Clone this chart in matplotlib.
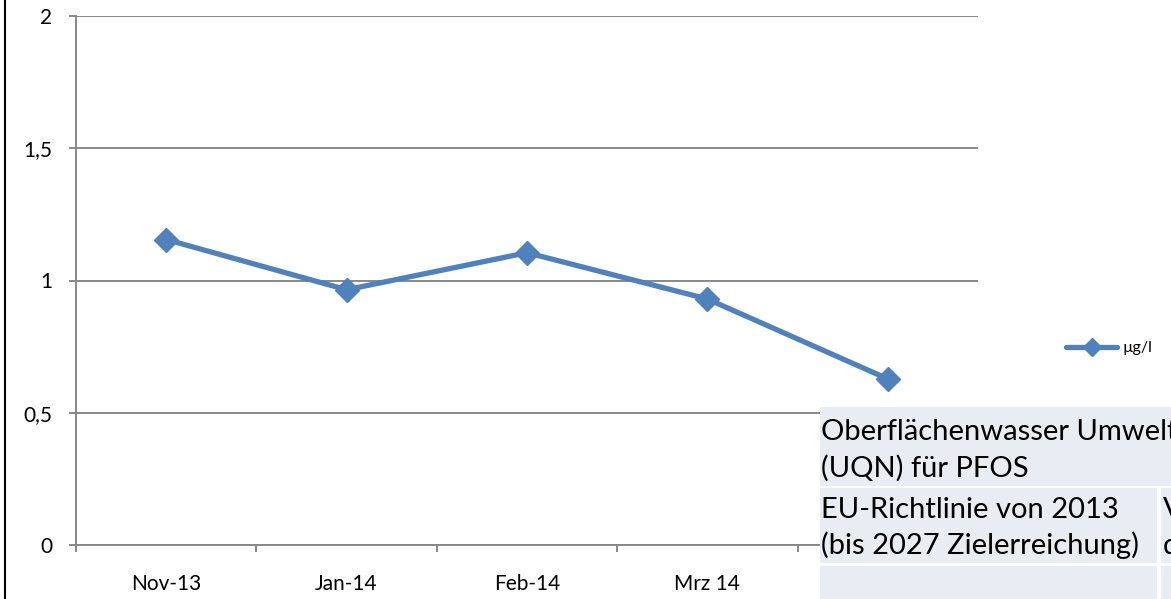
import matplotlib
matplotlib.use("Agg")
import matplotlib.pyplot as plt
from matplotlib.patches import Rectangle
from matplotlib.lines import Line2D

# data
categories = ["Nov-13", "Jan-14", "Feb-14", "Mrz 14", "Apr-14"]
values = [1.155, 0.965, 1.105, 0.93, 0.628]
series_name = "µg/l"
y_ticks = [0, 0.5, 1, 1.5, 2]
y_tick_labels = ["0", "0,5", "1", "1,5", "2"]

table_row1 = ["Oberflächenwasser Umwelt", "(UQN) für PFOS"]
table_row2_left = ["EU-Richtlinie von 2013", "(bis 2027 Zielerreichung)"]
table_row2_right = ["V", "d"]

W, H = 1171, 599
plt.rcParams["font.family"] = ["Lato", "DejaVu Sans"]

fig = plt.figure(figsize=(W / 100, H / 100), dpi=100)
ax = fig.add_axes([76 / W, 1 - 545 / H, (978 - 76) / W, (545 - 16) / H])

grid_col = "#888888"
line_col = "#4F81BD"

x = list(range(len(categories)))
ax.plot(x, values, color=line_col, lw=3.8, marker="D", markersize=12,
        label=series_name, solid_capstyle="round", solid_joinstyle="round")

ax.set_xlim(-0.5, len(categories) - 0.5)
ax.set_ylim(0, 2)
ax.set_yticks(y_ticks)
ax.set_yticklabels(y_tick_labels)
ax.set_xticks(x)
ax.set_xticklabels(categories)
ax.set_xticks([i - 0.5 for i in range(len(categories) + 1)], minor=True)

for s in ["top", "right"]:
    ax.spines[s].set_visible(False)
for s in ["left", "bottom"]:
    ax.spines[s].set_color(grid_col)
    ax.spines[s].set_linewidth(1.4)

ax.yaxis.grid(True, color=grid_col, lw=1.4)
ax.set_axisbelow(True)
ax.tick_params(axis="y", length=5, width=1.4, color=grid_col, pad=12,
               labelsize=15)
ax.tick_params(axis="x", which="major", length=0, pad=21, labelsize=15)
ax.tick_params(axis="x", which="minor", length=5, width=1.4, color=grid_col)

ax.legend(loc="center left", bbox_to_anchor=(1055 / W, 1 - 348 / H),
          bbox_transform=fig.transFigure, frameon=False, fontsize=11.5,
          handlelength=3.2, handletextpad=0.3, numpoints=1, markerscale=0.8,
          borderpad=0.2)

# chart border at the left edge
fig.add_artist(Line2D([5.5 / W, 5.5 / W], [0, 1], color="black", lw=1.5,
                      transform=fig.transFigure))

# overlaid table
cell_col = "#E8ECF3"
def cell(x0, y0, x1, y1):
    fig.add_artist(Rectangle((x0 / W, 1 - y1 / H), (x1 - x0) / W, (y1 - y0) / H,
                             transform=fig.transFigure, facecolor=cell_col,
                             edgecolor="none", zorder=5))

cell(820, 407, 1200, 486)
cell(820, 488, 1157, 563)
cell(1161, 488, 1200, 563)
cell(820, 566, 1157, 610)
cell(1161, 566, 1200, 610)

tfs = 21
def ttext(px, py, s):
    fig.text(px / W, 1 - py / H, s, fontsize=tfs, va="baseline", ha="left",
             zorder=6, color="black")

ttext(821, 440, table_row1[0])
ttext(821, 477, table_row1[1])
ttext(821, 518, table_row2_left[0])
ttext(821, 554, table_row2_left[1])
ttext(1163, 518, table_row2_right[0])
ttext(1163, 554, table_row2_right[1])

fig.savefig("out.png", dpi=100)
